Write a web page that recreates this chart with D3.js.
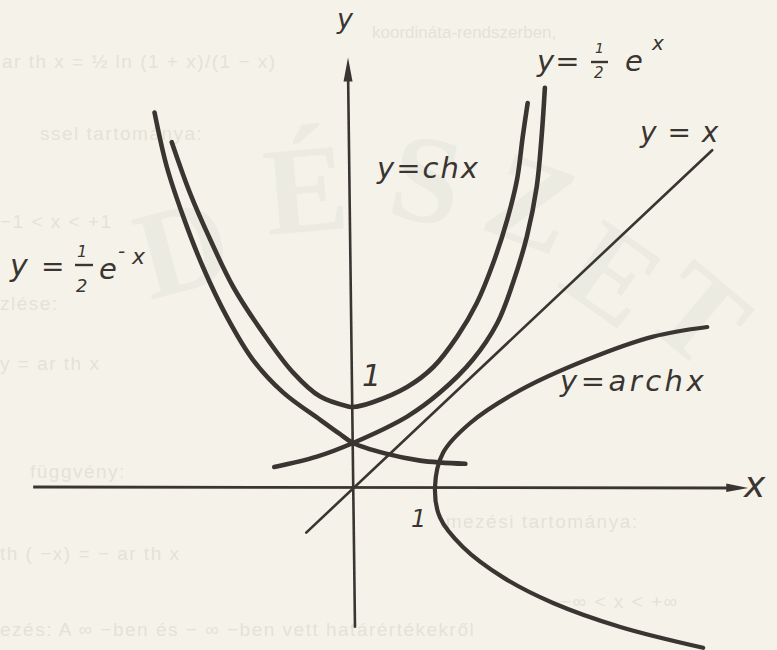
<!DOCTYPE html>
<html>
<head>
<meta charset="utf-8">
<script src="https://cdn.jsdelivr.net/npm/d3@7/dist/d3.min.js"></script>
<style>
  html, body { margin: 0; padding: 0; background: #f5f3e9; }
  svg { display: block; }
</style>
</head>
<body>
<script>
// ---- data (unit = 1 on both axes) ----
const chX = [[-2.21,4.31],[-1.99,3.68],[-1.74,3.09],[-1.46,2.50],[-1.10,1.93],[-0.73,1.43],[-0.40,1.13],[-0.07,1.01],[0,1.00],[0.24,1.06],[0.66,1.25],[0.98,1.50],[1.27,1.88],[1.51,2.30],[1.71,2.80],[1.88,3.34],[2.00,3.84],[2.07,4.38],[2.13,4.80]];
const halfExpNeg = [[-2.42,4.68],[-2.27,4.00],[-2.07,3.38],[-1.83,2.75],[-1.54,2.13],[-1.22,1.59],[-0.85,1.18],[-0.40,0.84],[-0.17,0.67],[0,0.55],[0.39,0.42],[0.82,0.33],[1.37,0.29]];
const halfExp = [[-0.96,0.25],[-0.44,0.38],[0,0.55],[0.66,0.88],[1.06,1.18],[1.46,1.59],[1.76,2.05],[1.95,2.55],[2.12,3.13],[2.24,3.75],[2.30,4.38],[2.34,4.99]];
const identity = [[-0.57,-0.57],[4.38,4.21]];
const arch = [[4.32,2.00],[3.66,1.88],[2.85,1.59],[2.04,1.21],[1.43,0.80],[1.10,0.43],[1.00,0.00],[1.06,-0.38],[1.34,-0.75],[1.83,-1.13],[2.44,-1.45],[3.26,-1.75],[4.27,-2.01]];
const xAxisExtent = [-3.9, 4.82];
const yAxisExtent = [-1.76, 5.37];
const unitTicks = ["1", "1"];
const curveLabels = ["y=ch x", "y=arch x", "y = x"];
const watermark = ["D", "É", "S", "Z", "E", "T"];
const faintText = [
  "koordináta-rendszerben,",
  "ar th x  =  ½  ln (1 + x)/(1 − x)",
  "ssel  tartománya:",
  "−1 < x < +1",
  "zlése:",
  "y = ar th x",
  "függvény:",
  "imezési  tartománya:",
  "th ( −x)  =  −  ar th x",
  "−∞ < x < +∞",
  "ezés:  A ∞ −ben és  − ∞ −ben  vett  határértékekről"
];

const W = 777, H = 650;
const ink = "#3b3532";
const x = d3.scaleLinear().domain([-4, 5]).range([353 - 4 * 82, 353 + 5 * 82]);
const y = d3.scaleLinear().domain([-2, 6]).range([487 + 2 * 80, 487 - 6 * 80]);

const svg = d3.select("body").append("svg").attr("width", W).attr("height", H);
svg.append("rect").attr("width", W).attr("height", H).attr("fill", "#f5f3e9");

// faint watermark letters
const wm = svg.append("g").attr("fill", "#ecebe1").attr("font-family", "Liberation Serif, serif").attr("font-weight", "bold").attr("font-size", 125);
const wmPos = [[150,300,-15],[268,235,-5],[385,215,10],[478,228,20],[555,285,35],[640,320,40]];
watermark.forEach((s, i) => {
  const d = wmPos[i];
  wm.append("text").attr("transform", `translate(${d[0]},${d[1]}) rotate(${d[2]})`).text(s);
});

// faint bleed-through text
const ft = svg.append("g").attr("fill", "#e4e2d7").attr("font-family", "Liberation Sans, sans-serif").attr("font-size", 19).attr("letter-spacing", 1.5);
const ftPos = [[372,38],[2,68],[40,140],[0,228],[0,310],[0,370],[30,478],[440,528],[0,560],[560,608],[0,636]];
faintText.forEach((s, i) => {
  const e = ft.append("text").attr("x", ftPos[i][0]).attr("y", ftPos[i][1]).text(s);
  if (i === 0) e.attr("font-size", 17).attr("letter-spacing", 0);
});

const g = svg.append("g");

// axes
g.append("line").attr("x1", x(xAxisExtent[0])).attr("y1", y(0)).attr("x2", x(xAxisExtent[1]) - 10).attr("y2", y(0) + 1)
  .attr("stroke", ink).attr("stroke-width", 2.8);
g.append("path").attr("d", `M${x(xAxisExtent[1])},${y(0)+1} L${x(xAxisExtent[1]) - 22},${y(0) - 3.5} L${x(xAxisExtent[1]) - 22},${y(0) + 5} Z`).attr("fill", ink);

const yb = [x(0) + 2, y(yAxisExtent[0])], yt = [x(0) - 5, y(yAxisExtent[1])];
g.append("line").attr("x1", yb[0]).attr("y1", yb[1]).attr("x2", yt[0]).attr("y2", yt[1] + 10)
  .attr("stroke", ink).attr("stroke-width", 2.6);
g.append("path").attr("d", `M${yt[0]},${yt[1]} L${yt[0] - 4.5},${yt[1] + 24} L${yt[0] + 4.5},${yt[1] + 24} Z`).attr("fill", ink);

// curves
const line = d3.line().x(d => x(d[0])).y(d => y(d[1])).curve(d3.curveCatmullRom.alpha(0.5));
[[chX, 4.6], [halfExpNeg, 4.6], [halfExp, 4.6], [arch, 4.2]].forEach(([data, w]) => {
  g.append("path").attr("d", line(data)).attr("fill", "none").attr("stroke", ink)
    .attr("stroke-width", w).attr("stroke-linecap", "round");
});
g.append("path").attr("d", d3.line().x(d => x(d[0])).y(d => y(d[1]))(identity))
  .attr("fill", "none").attr("stroke", ink).attr("stroke-width", 2.6).attr("stroke-linecap", "round");

// labels
const lab = svg.append("g").attr("fill", ink).attr("font-family", "DejaVu Sans, sans-serif").attr("font-style", "italic");
function t(s, px, py, size, extra) {
  const e = lab.append("text").attr("x", px).attr("y", py).attr("font-size", size).text(s);
  if (extra) e.attr("letter-spacing", extra);
  return e;
}
function bar(x1, x2, yy) {
  lab.append("line").attr("x1", x1).attr("x2", x2).attr("y1", yy).attr("y2", yy).attr("stroke", ink).attr("stroke-width", 2.4);
}
// axis names
t("y", 337, 28, 27);
t("x", 744, 497, 36);
// unit marks
t(unitTicks[0], 362, 386, 30);
t(unitTicks[1], 411, 527, 24);
// y = 1/2 e^x
t("y=", 537, 71, 29, 1);
t("1", 595, 53, 14);
bar(591, 608, 62);
t("2", 594, 78, 15);
t("e", 625, 71, 29);
t("x", 652, 50, 20);
// y = x
t(curveLabels[2], 640, 142, 28, 1);
// y = ch x
t(curveLabels[0].replace(" ", ""), 377, 178, 29, 2);
// y = arch x
t(curveLabels[1].replace(" ", ""), 560, 391, 29, 3.5);
// y = 1/2 e^-x
t("y", 10, 276, 30);
t("=", 41, 276, 28);
t("1", 77, 257, 16);
bar(75, 93, 265);
t("2", 76, 292, 18);
t("e", 99, 279, 29);
t("-", 118, 258, 20);
t("x", 132, 264, 22);
</script>
</body>
</html>
